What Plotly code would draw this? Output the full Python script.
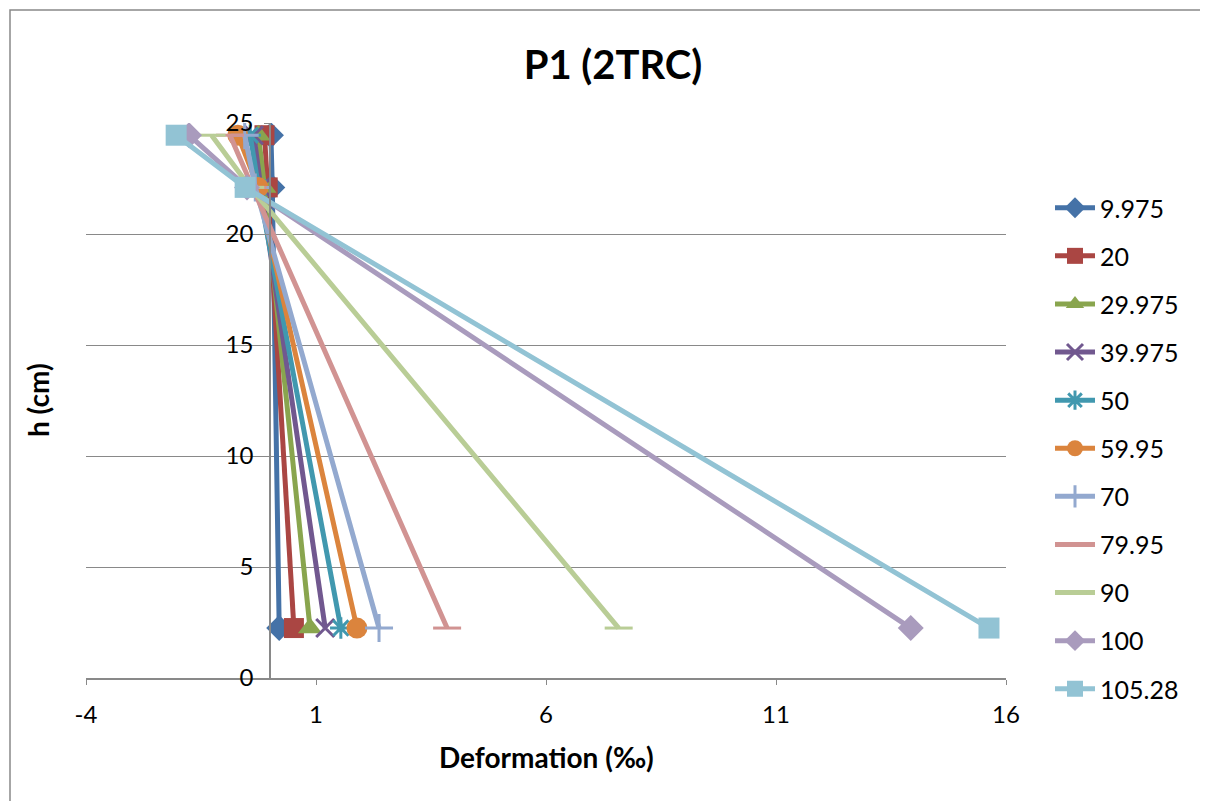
import plotly.graph_objects as go

# Heights (cm) of the three gauges
h = [24.45, 22.1, 2.25]

# Load levels (legend labels)
loads = ["9.975", "20", "29.975", "39.975", "50", "59.95", "70", "79.95", "90", "100", "105.28"]

# Deformation (‰) at each height, per load level
d_9975 = [0.02, 0.05, 0.20]
d_20 = [-0.12, -0.05, 0.52]
d_29975 = [-0.25, -0.12, 0.87]
d_39975 = [-0.35, -0.20, 1.20]
d_50 = [-0.43, -0.25, 1.54]
d_5995 = [-0.70, -0.26, 1.89]
d_70 = [-0.55, -0.32, 2.37]
d_7995 = [-0.87, -0.38, 3.85]
d_90 = [-1.27, -0.43, 7.58]
d_100 = [-1.76, -0.50, 13.93]
d_10528 = [-2.04, -0.54, 15.63]

series = [d_9975, d_20, d_29975, d_39975, d_50, d_5995, d_70, d_7995, d_90, d_100, d_10528]

x_ticks = [-4, 1, 6, 11, 16]
x_ticktext = ["-4", "1", "6", "11", "16"]
y_ticks = [0, 5, 10, 15, 20, 25]

colors = ["#4572A7", "#AA4643", "#89A54E", "#71588F", "#4198AF", "#DB843D",
          "#93A9CF", "#D19392", "#B9CD96", "#A99BBD", "#92C3D4"]
symbols = ["diamond", "square", "triangle-up", "x-thin", "asterisk", "circle",
           "cross-thin", "line-ew", "line-ew", "diamond", "square"]
sizes = [20, 20, 21, 18, 18, 21, 20, 20, 20, 20, 21]

FONT = "Lato, Carlito, Calibri, sans-serif"

# page body has an 8px margin: figure is drawn from (8,8)
W, H = 1200, 793
L, R, T, B = 78, 998, 115, 670  # plot area in figure pixels
PW, PH = R - L, B - T

fig = go.Figure()
for i, (name, xs) in enumerate(zip(loads, series)):
    sym = symbols[i]
    open_sym = sym in ("x-thin", "asterisk", "cross-thin", "line-ew")
    fig.add_trace(go.Scatter(
        x=xs, y=h, name=name, mode="lines+markers",
        legendgroup=name,
        line=dict(color=colors[i], width=5),
        marker=dict(symbol=sym, size=sizes[i], color=colors[i],
                    line=dict(color=colors[i], width=3 if open_sym else 0)),
    ))

fig.update_layout(
    width=W, height=H,
    paper_bgcolor="white", plot_bgcolor="white",
    margin=dict(l=L, r=W - R, t=T, b=H - B),
    font=dict(family=FONT, size=22, color="black"),
    title=dict(text="<b>P1 (2TRC)</b>", x=(613 - 8) / W, xref="container", xanchor="center",
               y=1 - (65 - 8) / H, yref="container", yanchor="middle",
               font=dict(size=40, family=FONT)),
    showlegend=True,
    legend=dict(x=(1050 - 8 - L) / PW, xanchor="left", y=(B - (185 - 8)) / PH, yanchor="top",
                font=dict(size=25, family=FONT), tracegroupgap=12.6,
                bgcolor="rgba(0,0,0,0)", itemwidth=40),
    xaxis=dict(range=[-4, 16], tickvals=x_ticks, ticktext=x_ticktext, showgrid=False,
               zeroline=False, showline=True, linecolor="#898989", linewidth=1.5,
               ticks="outside", ticklen=5, tickcolor="#898989",
               tickfont=dict(size=24), ticklabelstandoff=9, anchor="y"),
    yaxis=dict(range=[0, 25], tickvals=y_ticks, showgrid=True,
               gridcolor="#898989", gridwidth=1.2, zeroline=False,
               showline=True, linecolor="#898989", linewidth=1.5,
               ticks="outside", ticklen=5, tickcolor="#898989",
               tickfont=dict(size=24), ticklabelstandoff=6, anchor="free", position=0.2),
    annotations=[
        dict(text="<b>Deformation (‰)</b>", xref="paper", yref="paper",
             x=0.5, y=(B - (757 - 8)) / PH, showarrow=False, yanchor="middle",
             font=dict(size=28, family=FONT)),
        dict(text="<b>h (cm)</b>", xref="paper", yref="paper",
             x=(38 - 8 - L) / PW, y=(B - (400 - 8)) / PH, showarrow=False,
             textangle=-90, xanchor="center", yanchor="middle",
             font=dict(size=28, family=FONT)),
    ],
    shapes=[
        dict(type="rect", xref="paper", yref="paper",
             x0=(2 - L) / PW, x1=(1250 - L) / PW,
             y0=(B - 850) / PH, y1=(B - 2) / PH,
             line=dict(color="#898989", width=1.5), fillcolor="rgba(0,0,0,0)",
             layer="below"),
    ],
)

fig.write_html("out.html")
